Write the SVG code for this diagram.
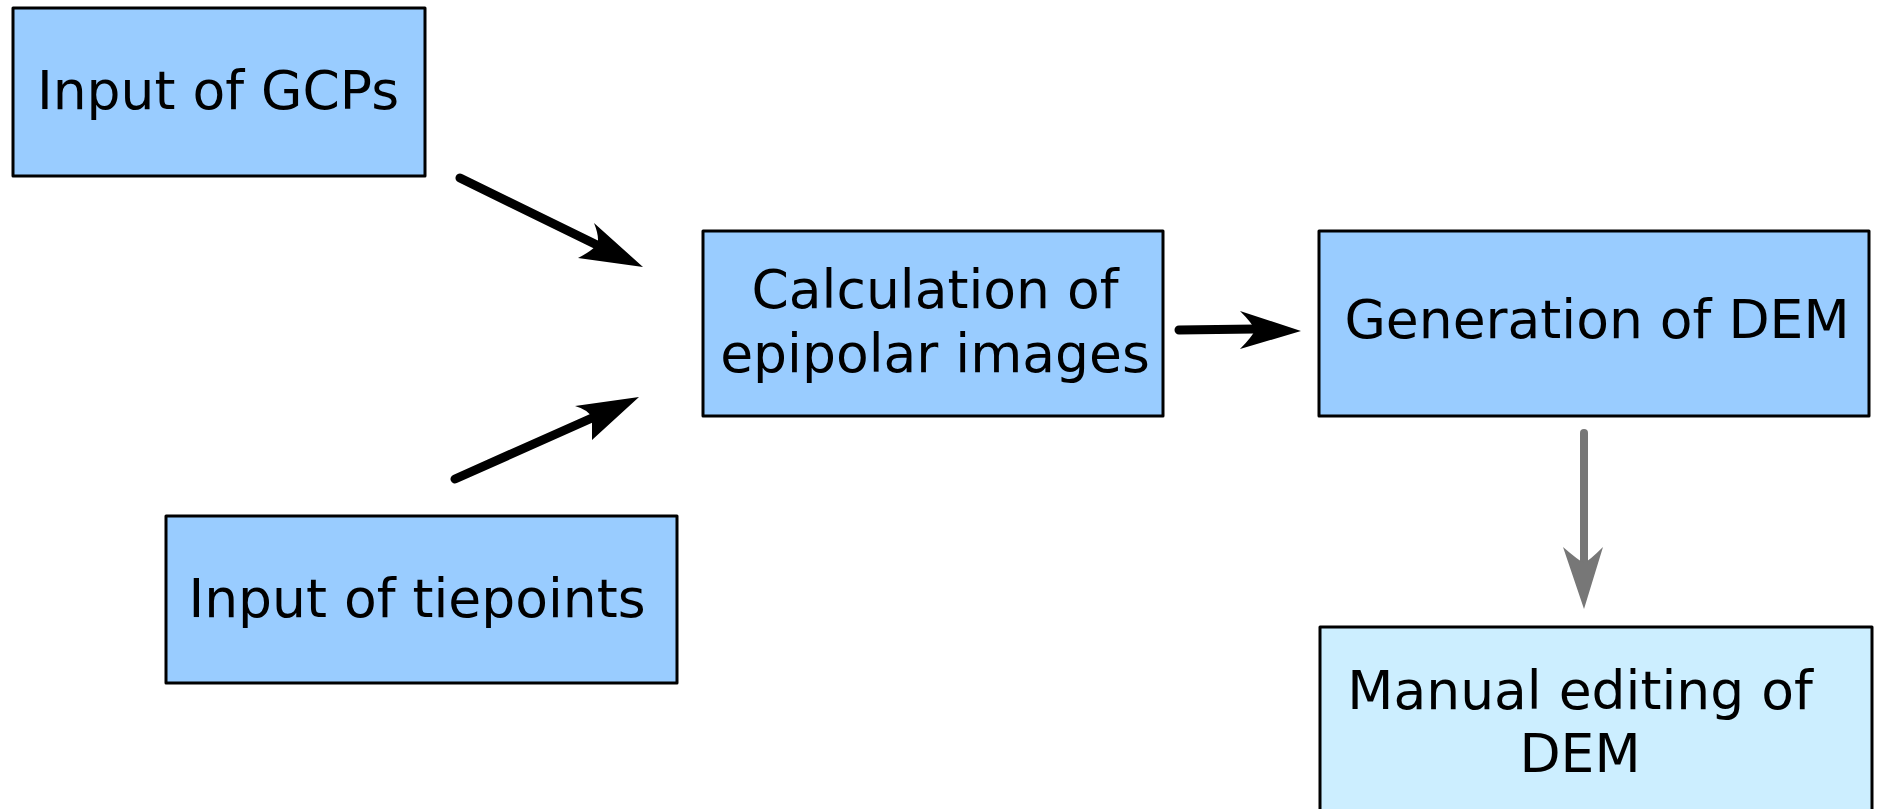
<svg xmlns="http://www.w3.org/2000/svg" width="1878" height="809" viewBox="0 0 1878 809">
  <style>
    .box { fill: #99ccff; stroke: #000; stroke-width: 3; stroke-linejoin: round; }
    .box2 { fill: #cceeff; stroke: #000; stroke-width: 3; stroke-linejoin: round; }
    .lbl { font-family: "DejaVu Sans", Verdana, sans-serif; font-size: 53.5px; fill: #000; text-anchor: middle; }
    .shaft { fill: none; stroke: #000; stroke-width: 9; stroke-linecap: round; }
    .shaft.grey { stroke: #777777; stroke-width: 8; }
    .head { fill: #000; stroke: none; }
    .head.grey { fill: #777777; }
  </style>
  <rect width="1878" height="809" fill="#ffffff"/>
  <g id="connectors">
    <g id="c-gcps-calc">
      <path class="shaft" d="M460,178 L597,245"/>
      <path class="head" d="M643,267 L594,223 Q600,238 597,245 Q590,252 578,258 Z"/>
    </g>
    <g id="c-tie-calc">
      <path class="shaft" d="M455,479 L592,418"/>
      <path class="head" d="M639,397 L575,406 Q589,410 592,418 Q592,428 592,440 Z"/>
    </g>
    <g id="c-calc-gen">
      <path class="shaft" d="M1179,330 L1255,329"/>
      <path class="head" d="M1301,331 L1240,311 Q1252,323 1255,330 Q1252,337 1240,349 Z"/>
    </g>
    <g id="c-gen-manual">
      <path class="shaft grey" d="M1584,433 L1584,562"/>
      <path class="head grey" d="M1584,609 L1563,547 Q1578,560 1584,563 Q1590,560 1603,547 Z"/>
    </g>
  </g>
  <g id="node-gcps">
    <rect class="box" x="13" y="8" width="412" height="168"/>
    <text class="lbl" x="218" y="109">Input of GCPs</text>
  </g>
  <g id="node-tiepoints">
    <rect class="box" x="166" y="516" width="511" height="167"/>
    <text class="lbl" x="417" y="617">Input of tiepoints</text>
  </g>
  <g id="node-calc">
    <rect class="box" x="703" y="231" width="460" height="185"/>
    <text class="lbl" x="935" y="308">Calculation of</text>
    <text class="lbl" x="935" y="372">epipolar images</text>
  </g>
  <g id="node-gen">
    <rect class="box" x="1319" y="231" width="550" height="185"/>
    <text class="lbl" x="1597" y="338">Generation of DEM</text>
  </g>
  <g id="node-manual">
    <rect class="box2" x="1320" y="627" width="552" height="200"/>
    <text class="lbl" x="1580" y="709">Manual editing of</text>
    <text class="lbl" x="1580" y="772">DEM</text>
  </g>
</svg>
